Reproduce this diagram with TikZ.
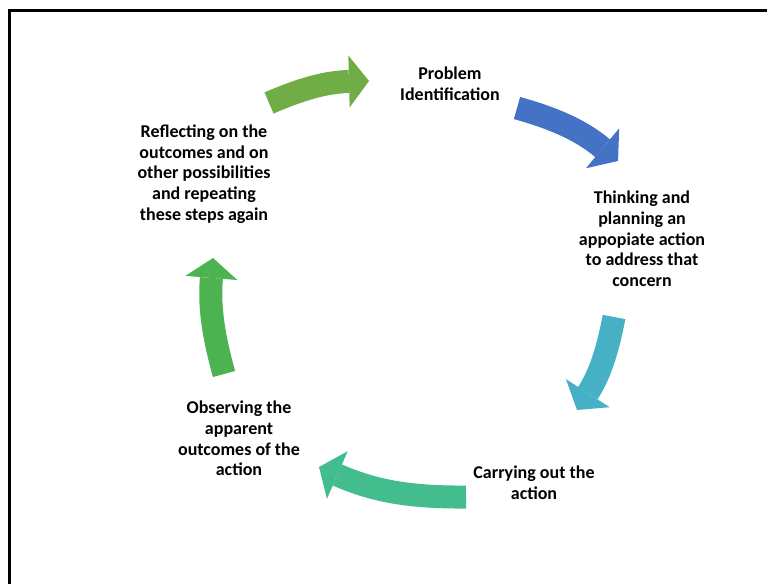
\documentclass[tikz,border=0pt]{standalone}
\usepackage{fontspec}
\setmainfont{Carlito}
\usetikzlibrary{arrows.meta}
\definecolor{cA}{HTML}{70AD47}
\definecolor{cB}{HTML}{4472C4}
\definecolor{cC}{HTML}{46B0C4}
\definecolor{cD}{HTML}{44BD8E}
\definecolor{cE}{HTML}{4CB350}
\tikzset{
  cyclearrow/.style={line width=23pt, line cap=butt,
    -{Triangle[length=20pt,width=52pt,line width=0pt]}},
  label/.style={align=center, inner sep=0pt,
    font=\bfseries\fontsize{18}{20.7}\selectfont}
}
\begin{document}
\begin{tikzpicture}[x=1pt,y=1pt]
\useasboundingbox (0,0) rectangle (767,-583);
\clip (0,0) rectangle (767,-583);
\fill[white] (0,0) rectangle (767,-583);
% frame
\draw[line width=3pt] (9.5,-600) -- (9.5,-10.5) -- (800,-10.5);
% labels
\node[label] (prob) at (450,-84) {Problem\\Identification};
\node[label] (think) at (642,-239) {Thinking and\\planning an\\appopiate action\\to address that\\concern};
\node[label] (carry) at (534,-483) {Carrying out the\\action};
\node[label] (obs) at (239,-438.5) {Observing the\\apparent\\outcomes of the\\action};
\node[label] (refl) at (204,-174) {Reflecting on the\\outcomes and on\\other possibilities\\and repeating\\these steps again};
% arrow ends
\coordinate (a1s) at (269,-103); \coordinate (a1e) at (369,-81);
\coordinate (a2s) at (517,-108); \coordinate (a2e) at (618,-161);
\coordinate (a3s) at (614,-317); \coordinate (a3e) at (577,-410);
\coordinate (a4s) at (466,-497); \coordinate (a4e) at (319,-467);
\coordinate (a5s) at (224,-374); \coordinate (a5e) at (213,-258);
\draw[cyclearrow, cA] (a1s) to[bend left=11] (a1e);
\draw[cyclearrow, cB] (a2s) to[bend left=12] (a2e);
\draw[cyclearrow, cC] (a3s) to[bend left=11] (a3e);
\draw[cyclearrow, cD] (a4s) to[bend left=12] (a4e);
\draw[cyclearrow, cE] (a5s) to[bend left=10] (a5e);
\end{tikzpicture}
\end{document}
